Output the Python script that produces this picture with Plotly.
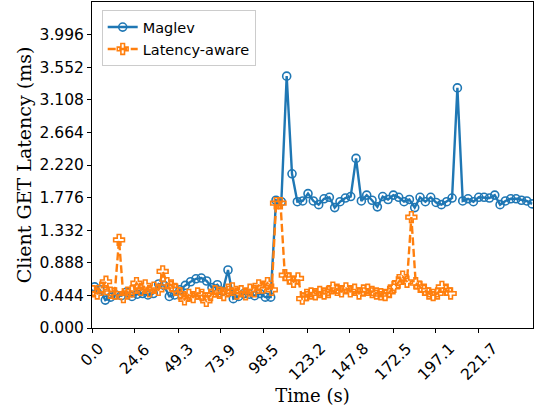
import plotly.graph_objects as go

# ---------------- data ----------------
maglev_start, maglev_interval = 1.5, 3.057
maglev_latency = [
    0.56, 0.52, 0.38, 0.42, 0.45, 0.44, 0.49, 0.43, 0.46, 0.47,
    0.45, 0.47, 0.60, 0.58, 0.43, 0.45, 0.52, 0.58, 0.63, 0.67,
    0.68, 0.64, 0.55, 0.59, 0.50, 0.79, 0.40, 0.43, 0.47, 0.46,
    0.44, 0.47, 0.42, 0.42, 1.74, 1.72, 3.43, 2.10, 1.72, 1.73,
    1.83, 1.73, 1.68, 1.76, 1.78, 1.64, 1.72, 1.77, 1.79, 2.31,
    1.73, 1.81, 1.74, 1.65, 1.79, 1.75, 1.81, 1.78, 1.72, 1.75,
    1.64, 1.78, 1.72, 1.78, 1.71, 1.68, 1.72, 1.77, 3.27, 1.73,
    1.76, 1.72, 1.78, 1.78, 1.77, 1.81, 1.68, 1.73, 1.76, 1.76,
    1.74, 1.73, 1.69,
]
maglev_time = [maglev_start + i * maglev_interval for i in range(len(maglev_latency))]

aware_start, aware_interval = 0.5, 2.5
aware_latency = [
    0.50, 0.47, 0.55, 0.63, 0.48, 0.47, 1.20, 0.42, 0.48, 0.50,
    0.61, 0.52, 0.58, 0.50, 0.55, 0.52, 0.77, 0.61, 0.58, 0.52,
    0.47, 0.39, 0.45, 0.42, 0.47, 0.45, 0.37, 0.45, 0.50, 0.48,
    0.45, 0.52, 0.54, 0.47, 0.50, 0.46, 0.52, 0.50, 0.58, 0.55,
    0.61, 0.52, 1.70, 1.70, 0.72, 0.675, 0.63, 0.675, 0.40, 0.45,
    0.47, 0.46, 0.49, 0.47, 0.49, 0.55, 0.52, 0.50, 0.54, 0.50,
    0.52, 0.47, 0.51, 0.52, 0.49, 0.47, 0.46, 0.45, 0.49, 0.56,
    0.62, 0.70, 0.63, 1.51, 0.61, 0.56, 0.52, 0.47, 0.45, 0.47,
    0.56, 0.52, 0.47,
]
aware_time = [aware_start + i * aware_interval for i in range(len(aware_latency))]

x_tick_labels = ["0.0", "24.6", "49.3", "73.9", "98.5", "123.2", "147.8", "172.5", "197.1", "221.7"]
y_tick_labels = ["0.000", "0.444", "0.888", "1.332", "1.776", "2.220", "2.664", "3.108", "3.552", "3.996"]
x_range = [0, 252.7]
y_range = [0, 4.44]

# ---------------- figure ----------------
BLUE = "#1f77b4"
ORANGE = "#ff7f0e"
SANS = "DejaVu Sans"
SERIF = "DejaVu Serif"

fig = go.Figure()
fig.add_trace(go.Scatter(
    x=maglev_time, y=maglev_latency, name="Maglev", mode="lines+markers",
    line=dict(color=BLUE, width=2.4),
    marker=dict(symbol="circle-open", size=8, color=BLUE, line=dict(width=1.6, color=BLUE)),
))
fig.add_trace(go.Scatter(
    x=aware_time, y=aware_latency, name="Latency-aware", mode="lines+markers",
    line=dict(color=ORANGE, width=2.4, dash="8px,3.5px"),
    marker=dict(symbol="cross-open", size=9, color=ORANGE, line=dict(width=1.6, color=ORANGE)),
))

x_tick_vals = [float(s) for s in x_tick_labels]
y_tick_vals = [float(s) for s in y_tick_labels]

for v, s in zip(x_tick_vals, x_tick_labels):
    fig.add_annotation(
        x=v, y=0, xref="x", yref="paper", text=s, showarrow=False,
        textangle=-45, xanchor="center", yanchor="top", yshift=-9,
        font=dict(family=SANS, size=15.5, color="black"),
    )

fig.update_layout(
    width=534, height=408,
    margin=dict(l=92, r=1, t=2, b=80, autoexpand=False),
    paper_bgcolor="white", plot_bgcolor="white",
    showlegend=True,
    legend=dict(
        x=0.022, y=0.975, xanchor="left", yanchor="top",
        bgcolor="rgba(255,255,255,0.8)", bordercolor="#cccccc", borderwidth=1,
        font=dict(family=SANS, size=14.5, color="black"),
    ),
    xaxis=dict(
        range=x_range, tickmode="array", tickvals=x_tick_vals, showticklabels=False,
        ticks="outside", ticklen=4, tickwidth=1, tickcolor="black",
        showline=True, linecolor="black", linewidth=1, mirror=True,
        showgrid=False, zeroline=False,
        title=dict(text="Time (s)", font=dict(family=SERIF, size=18, color="black"), standoff=57),
        automargin=False,
    ),
    yaxis=dict(
        range=y_range, tickmode="array", tickvals=y_tick_vals, ticktext=y_tick_labels,
        ticks="outside", ticklen=4, tickwidth=1, tickcolor="black",
        tickfont=dict(family=SANS, size=15.5, color="black"),
        showline=True, linecolor="black", linewidth=1, mirror=True,
        showgrid=False, zeroline=False,
        title=dict(text="Client GET Latency (ms)", font=dict(family=SERIF, size=19, color="black"), standoff=2),
        automargin=False,
    ),
)

fig.write_html(
    "out.html",
    config={"displayModeBar": False},
    post_script="document.body.style.margin='0';document.body.style.overflow='hidden';",
)
